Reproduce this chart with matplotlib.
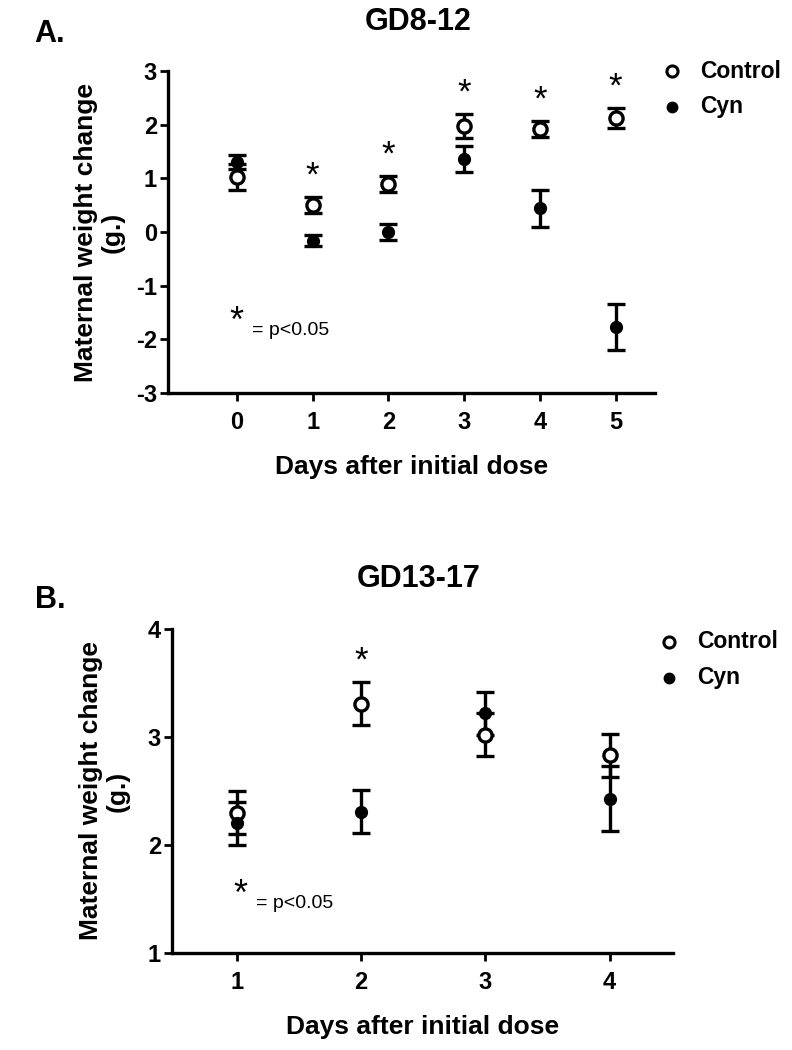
import matplotlib
matplotlib.use("Agg")
import matplotlib.pyplot as plt

# ---------------- data ----------------
days_A = [0, 1, 2, 3, 4, 5]
ctrl_A = [1.02, 0.51, 0.89, 1.98, 1.92, 2.12]
ctrl_A_err = [0.24, 0.15, 0.15, 0.22, 0.15, 0.19]
cyn_A = [1.31, -0.16, 0.00, 1.36, 0.44, -1.77]
cyn_A_err = [0.13, 0.10, 0.14, 0.25, 0.34, 0.42]
sig_A = [1, 2, 3, 4, 5]

days_B = [1, 2, 3, 4]
ctrl_B = [2.30, 3.31, 3.02, 2.83]
ctrl_B_err = [0.20, 0.20, 0.20, 0.20]
cyn_B = [2.20, 2.31, 3.22, 2.43]
cyn_B_err = [0.20, 0.20, 0.20, 0.30]
sig_B = [2]

yticks_A = [-3, -2, -1, 0, 1, 2, 3]
yticks_B = [1, 2, 3, 4]

# ---------------- style ----------------
BOLD = ['Liberation Sans', 'Arial', 'DejaVu Sans']
plt.rcParams['font.family'] = BOLD
plt.rcParams['axes.unicode_minus'] = False

fig = plt.figure(figsize=(7.92, 10.5), dpi=100)


def panel(rect, days, ctrl, ctrl_err, cyn, cyn_err, sig, yticks, xlim, title,
          letter, letter_xy, title_xy, legend_xy, note_xy, ylabelpad):
    ax = fig.add_axes(rect)
    ekw = dict(fmt='none', ecolor='black', elinewidth=2.4, capsize=6.5, capthick=2.4, zorder=2)
    ax.errorbar(days, ctrl, yerr=ctrl_err, **ekw)
    ax.errorbar(days, cyn, yerr=cyn_err, **ekw)
    ax.plot(days, ctrl, 'o', ls='none', mfc='white', mec='black', mew=2.4, ms=9.5, zorder=3)
    ax.plot(days, cyn, 'o', ls='none', mfc='black', mec='black', ms=8.5, zorder=4)
    for d in sig:
        i = days.index(d)
        ax.annotate('*', (d, ctrl[i] + ctrl_err[i]), xytext=(0, 3),
                    textcoords='offset points', ha='center', va='bottom',
                    fontsize=25)
    ax.set_xlim(*xlim)
    ax.set_ylim(yticks[0], yticks[-1])
    ax.set_xticks(days)
    ax.set_yticks(yticks)
    for s in ['top', 'right']:
        ax.spines[s].set_visible(False)
    for s in ['left', 'bottom']:
        ax.spines[s].set_linewidth(2.4)
    ax.tick_params(axis='x', direction='out', length=6, width=2, pad=7)
    ax.tick_params(axis='y', direction='out', length=6, width=2, pad=2)
    for lab in ax.get_xticklabels() + ax.get_yticklabels():
        lab.set_fontweight('bold')
        lab.set_fontsize(17)
    ax.set_xlabel('Days after initial dose', fontsize=19, fontweight='bold',
                  labelpad=15)
    ax.set_ylabel('Maternal weight change\n(g.)', fontsize=19, fontweight='bold',
                  labelpad=ylabelpad, linespacing=1.15)
    fig.text(title_xy[0], title_xy[1], title, fontsize=22, fontweight='bold',
             ha='center', va='center')
    fig.text(letter_xy[0], letter_xy[1], letter, fontsize=22, fontweight='bold',
             ha='center', va='center')
    # legend
    lx, ly = legend_xy
    fig.lines.append(plt.Line2D([lx], [ly], marker='o', ls='none', mfc='white',
                                mec='black', mew=2.2, ms=8, transform=fig.transFigure))
    fig.lines.append(plt.Line2D([lx], [ly - 0.034], marker='o', ls='none', mfc='black',
                                mec='black', ms=7.5, transform=fig.transFigure))
    fig.text(lx + 0.035, ly, 'Control', fontsize=16.5, fontweight='bold', va='center')
    fig.text(lx + 0.035, ly - 0.034, 'Cyn', fontsize=16.5, fontweight='bold', va='center')
    # significance note
    nx, ny = note_xy
    fig.text(nx, ny, '*', fontsize=26, ha='center', va='center')
    fig.text(nx + 0.02, ny - 0.008, '= p<0.05', fontsize=14,
             ha='left', va='center')
    return ax


panel([168 / 792, 1 - 393 / 1050, 487 / 792, 322 / 1050],
      days_A, ctrl_A, ctrl_A_err, cyn_A, cyn_A_err, sig_A, yticks_A, (-0.91, 5.52),
      'GD8-12', 'A.', (50 / 792, 1 - 34 / 1050), (418 / 792, 1 - 22 / 1050),
      (672 / 792, 1 - 71 / 1050), (236 / 792, 1 - 322 / 1050), 8)

panel([172 / 792, 1 - 953 / 1050, 501 / 792, 324 / 1050],
      days_B, ctrl_B, ctrl_B_err, cyn_B, cyn_B_err, sig_B, yticks_B, (0.48, 4.51),
      'GD13-17', 'B.', (50 / 792, 1 - 600 / 1050), (419 / 792, 1 - 579 / 1050),
      (669 / 792, 1 - 642 / 1050), (240 / 792, 1 - 895 / 1050), 13)

fig.savefig('out.png', dpi=100, facecolor='white')
